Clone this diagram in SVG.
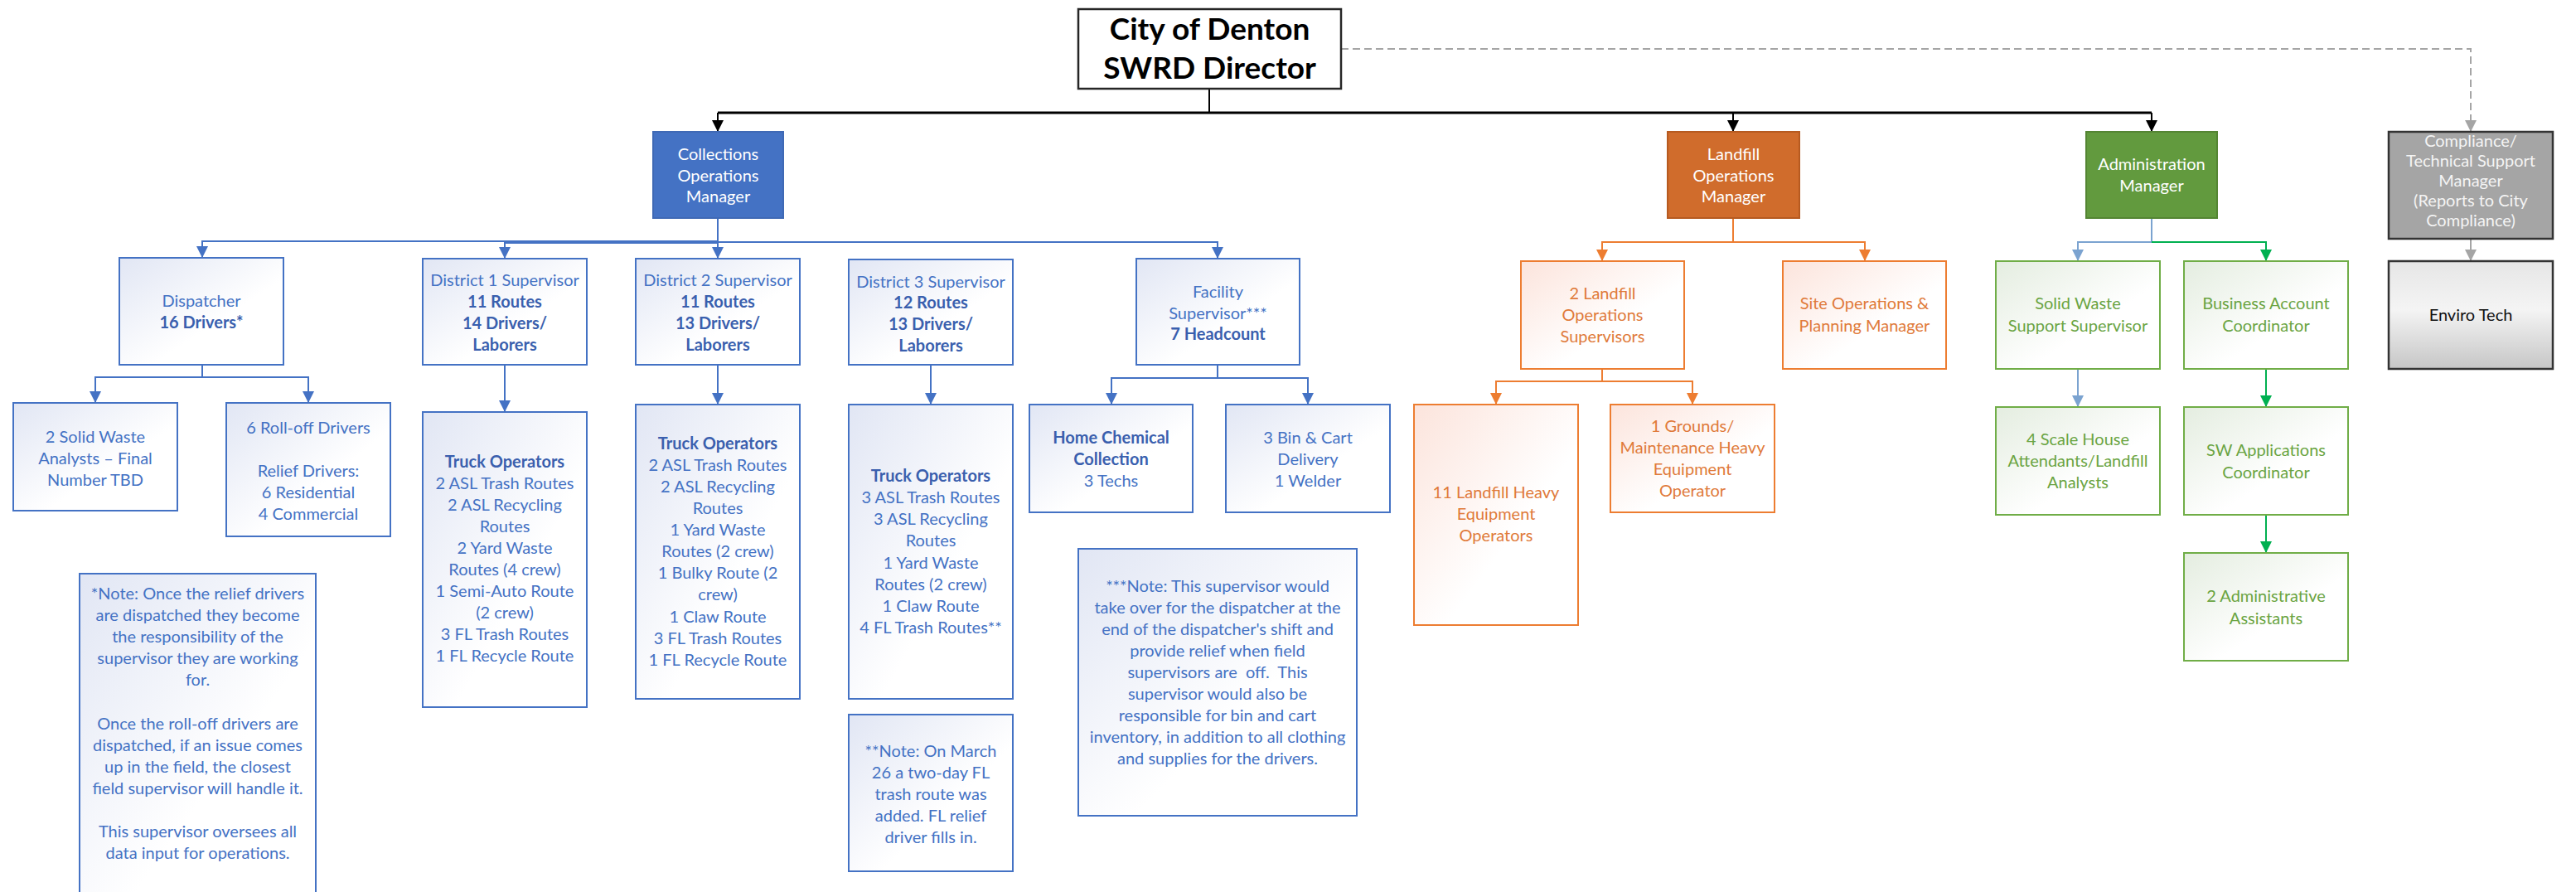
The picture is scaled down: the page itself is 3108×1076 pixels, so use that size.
<svg xmlns="http://www.w3.org/2000/svg" width="3108" height="1076" viewBox="0 0 3108 1076">
<defs>
<linearGradient id="gb" x1="0" y1="0" x2="1" y2="1"><stop offset="0" stop-color="#E1E6F4"/><stop offset="0.6" stop-color="#FFFFFF"/></linearGradient>
<linearGradient id="go" x1="0" y1="0" x2="1" y2="1"><stop offset="0" stop-color="#FCE4DC"/><stop offset="0.6" stop-color="#FFFFFF"/></linearGradient>
<linearGradient id="gg" x1="0" y1="0" x2="1" y2="1"><stop offset="0" stop-color="#E4EDE0"/><stop offset="0.6" stop-color="#FFFFFF"/></linearGradient>
<linearGradient id="gk" x1="0" y1="0" x2="0" y2="1"><stop offset="0" stop-color="#E6E6E6"/><stop offset="0.45" stop-color="#F4F4F4"/><stop offset="1" stop-color="#C6C6C6"/></linearGradient>
<marker id="ak" markerUnits="userSpaceOnUse" markerWidth="14" markerHeight="14" refX="14" refY="7" orient="auto"><path d="M0,0 L14,7 L0,14 z" fill="#000"/></marker>
<marker id="ab" markerUnits="userSpaceOnUse" markerWidth="14" markerHeight="14" refX="14" refY="7" orient="auto"><path d="M0,0 L14,7 L0,14 z" fill="#4472C4"/></marker>
<marker id="ao" markerUnits="userSpaceOnUse" markerWidth="14" markerHeight="14" refX="14" refY="7" orient="auto"><path d="M0,0 L14,7 L0,14 z" fill="#ED7D31"/></marker>
<marker id="al" markerUnits="userSpaceOnUse" markerWidth="14" markerHeight="14" refX="14" refY="7" orient="auto"><path d="M0,0 L14,7 L0,14 z" fill="#7BA3D0"/></marker>
<marker id="ag" markerUnits="userSpaceOnUse" markerWidth="14" markerHeight="14" refX="14" refY="7" orient="auto"><path d="M0,0 L14,7 L0,14 z" fill="#00B050"/></marker>
<marker id="ay" markerUnits="userSpaceOnUse" markerWidth="14" markerHeight="14" refX="14" refY="7" orient="auto"><path d="M0,0 L14,7 L0,14 z" fill="#A5A5A5"/></marker>
</defs>
<style>
text{font-family:Lato,"Liberation Sans",sans-serif;font-size:20px;text-anchor:middle}
.b{fill:url(#gb);stroke:#4472C4;stroke-width:2}
.o{fill:url(#go);stroke:#ED7D31;stroke-width:2}
.g{fill:url(#gg);stroke:#70AD47;stroke-width:2}
.tb{fill:#4472C4}
.to{fill:#E07A3A}
.tg{fill:#6AA442}
.tw{fill:#FFFFFF}
.bd{font-weight:bold}
.tbb{fill:#3A5FAE;font-weight:bold}
.c{fill:none;stroke-width:2}
.ck{stroke:#000;marker-end:url(#ak)}
.cb{stroke:#4472C4;marker-end:url(#ab)}
.co{stroke:#ED7D31;marker-end:url(#ao)}
.cl{stroke:#7BA3D0;marker-end:url(#al)}
.cg{stroke:#00B050;marker-end:url(#ag)}
.cy{stroke:#A5A5A5;marker-end:url(#ay)}
</style>
<rect width="3108" height="1076" fill="#FFFFFF"/>
<g id="connectors">
<path class="c" d="M1459,107 V136" stroke="#000" stroke-width="2.5"/>
<path d="M866,136 H2596" fill="none" stroke="#000" stroke-width="3"/>
<path class="c ck" d="M866,136 V159"/>
<path class="c ck" d="M2091,136 V159"/>
<path class="c ck" d="M2596,136 V159"/>
<path class="c cy" d="M1618,59 H2981 V159" stroke-dasharray="9,5"/>
<path class="c cy" d="M2981,288 V315"/>
<path class="c cb" d="M866,263 V291 H244 V311"/>
<path class="c cb" d="M866,263 V293 H609 V312"/>
<path class="c cb" d="M866,263 V312"/>
<path class="c cb" d="M866,263 V292 H1469 V312"/>
<path class="c cb" d="M244,440 V455 H115 V486"/>
<path class="c cb" d="M244,440 V455 H372 V486"/>
<path class="c cb" d="M609,440 V497"/>
<path class="c cb" d="M866,440 V488"/>
<path class="c cb" d="M1123,440 V488"/>
<path class="c cb" d="M1469,440 V456 H1341 V488"/>
<path class="c cb" d="M1469,440 V456 H1578 V488"/>
<path class="c co" d="M2091,263 V292 H1933 V315"/>
<path class="c co" d="M2091,263 V292 H2250 V315"/>
<path class="c co" d="M1933,445 V460 H1805 V488"/>
<path class="c co" d="M1933,445 V460 H2042 V488"/>
<path class="c cl" d="M2596,263 V292 H2507 V315"/>
<path class="c cg" d="M2596,292 H2734 V315"/>
<path class="c cl" d="M2507,445 V491"/>
<path class="c cg" d="M2734,445 V491"/>
<path class="c cg" d="M2734,621 V667"/>
</g>
<g id="director">
<rect x="1301" y="11" width="317" height="96" fill="#FFFFFF" stroke="#262626" stroke-width="2.5"/>
<text x="1459.5" y="48" style="font-size:37px;font-weight:bold" fill="#000">City of Denton</text>
<text x="1459.5" y="95" style="font-size:37px;font-weight:bold" fill="#000">SWRD Director</text>
</g>
<g id="collections-manager">
<rect x="788" y="159" width="157" height="104" fill="#4472C4" stroke="#3F69B5" stroke-width="2"/>
<text class="tw"><tspan x="866.5" y="193">Collections</tspan><tspan x="866.5" y="218.5">Operations</tspan><tspan x="866.5" y="244">Manager</tspan></text>
</g>
<g id="landfill-manager">
<rect x="2012" y="159" width="159" height="104" fill="#D06C2C" stroke="#B65A20" stroke-width="2"/>
<text class="tw"><tspan x="2091.5" y="193">Landfill</tspan><tspan x="2091.5" y="218.5">Operations</tspan><tspan x="2091.5" y="244">Manager</tspan></text>
</g>
<g id="admin-manager">
<rect x="2517" y="159" width="158" height="104" fill="#629A3E" stroke="#548533" stroke-width="2"/>
<text class="tw"><tspan x="2596" y="205">Administration</tspan><tspan x="2596" y="231">Manager</tspan></text>
</g>
<g id="compliance-manager">
<rect x="2882" y="159" width="198" height="129" fill="#A5A5A5" stroke="#333333" stroke-width="2.5"/>
<text fill="#F4F4F4"><tspan x="2981" y="177">Compliance/</tspan><tspan x="2981" y="201">Technical Support</tspan><tspan x="2981" y="225">Manager</tspan><tspan x="2981" y="249">(Reports to City</tspan><tspan x="2981" y="273">Compliance)</tspan></text>
</g>
<g id="enviro-tech">
<rect x="2882" y="315" width="198" height="130" fill="url(#gk)" stroke="#333333" stroke-width="2.5"/>
<text x="2981" y="387" fill="#111">Enviro Tech</text>
</g>
<g id="dispatcher">
<rect class="b" x="144" y="311" width="198" height="129"/>
<text class="tb"><tspan x="243" y="370">Dispatcher</tspan><tspan x="243" y="396" class="tbb">16 Drivers*</tspan></text>
</g>
<g id="district1">
<rect class="b" x="510" y="312" width="198" height="128"/>
<text class="tb"><tspan x="609" y="345">District 1 Supervisor</tspan><tspan x="609" y="371" class="tbb">11 Routes</tspan><tspan x="609" y="397" class="tbb">14 Drivers/</tspan><tspan x="609" y="423" class="tbb">Laborers</tspan></text>
</g>
<g id="district2">
<rect class="b" x="767" y="312" width="198" height="128"/>
<text class="tb"><tspan x="866" y="345">District 2 Supervisor</tspan><tspan x="866" y="371" class="tbb">11 Routes</tspan><tspan x="866" y="397" class="tbb">13 Drivers/</tspan><tspan x="866" y="423" class="tbb">Laborers</tspan></text>
</g>
<g id="district3">
<rect class="b" x="1024" y="313" width="198" height="127"/>
<text class="tb"><tspan x="1123" y="347">District 3 Supervisor</tspan><tspan x="1123" y="372" class="tbb">12 Routes</tspan><tspan x="1123" y="398" class="tbb">13 Drivers/</tspan><tspan x="1123" y="424" class="tbb">Laborers</tspan></text>
</g>
<g id="facility">
<rect class="b" x="1371" y="312" width="197" height="128"/>
<text class="tb"><tspan x="1469.5" y="359">Facility</tspan><tspan x="1469.5" y="385">Supervisor***</tspan><tspan x="1469.5" y="410" class="tbb">7 Headcount</tspan></text>
</g>
<g id="analysts">
<rect class="b" x="16" y="486" width="198" height="130"/>
<text class="tb"><tspan x="115" y="534">2 Solid Waste</tspan><tspan x="115" y="560">Analysts – Final</tspan><tspan x="115" y="586">Number TBD</tspan></text>
</g>
<g id="rolloff">
<rect class="b" x="273" y="486" width="198" height="161"/>
<text class="tb"><tspan x="372" y="523">6 Roll-off Drivers</tspan><tspan x="372" y="575">Relief Drivers:</tspan><tspan x="372" y="601">6 Residential</tspan><tspan x="372" y="627">4 Commercial</tspan></text>
</g>
<g id="note1">
<rect class="b" x="96" y="692" width="285" height="400"/>
<text class="tb"><tspan x="238.5" y="723">*Note: Once the relief drivers</tspan><tspan x="238.5" y="749">are dispatched they become</tspan><tspan x="238.5" y="775">the responsibility of the</tspan><tspan x="238.5" y="801">supervisor they are working</tspan><tspan x="238.5" y="827">for.</tspan><tspan x="238.5" y="880">Once the roll-off drivers are</tspan><tspan x="238.5" y="906">dispatched, if an issue comes</tspan><tspan x="238.5" y="932">up in the field, the closest</tspan><tspan x="238.5" y="958">field supervisor will handle it.</tspan><tspan x="238.5" y="1010">This supervisor oversees all</tspan><tspan x="238.5" y="1036">data input for operations.</tspan></text>
</g>
<g id="d1-operators">
<rect class="b" x="510" y="497" width="198" height="356"/>
<text class="tb"><tspan x="609" y="564" class="tbb">Truck Operators</tspan><tspan x="609" y="590">2 ASL Trash Routes</tspan><tspan x="609" y="616">2 ASL Recycling</tspan><tspan x="609" y="642">Routes</tspan><tspan x="609" y="668">2 Yard Waste</tspan><tspan x="609" y="694">Routes (4 crew)</tspan><tspan x="609" y="720">1 Semi-Auto Route</tspan><tspan x="609" y="746">(2 crew)</tspan><tspan x="609" y="772">3 FL Trash Routes</tspan><tspan x="609" y="798">1 FL Recycle Route</tspan></text>
</g>
<g id="d2-operators">
<rect class="b" x="767" y="488" width="198" height="355"/>
<text class="tb"><tspan x="866" y="542" class="tbb">Truck Operators</tspan><tspan x="866" y="568">2 ASL Trash Routes</tspan><tspan x="866" y="594">2 ASL Recycling</tspan><tspan x="866" y="620">Routes</tspan><tspan x="866" y="646">1 Yard Waste</tspan><tspan x="866" y="672">Routes (2 crew)</tspan><tspan x="866" y="698">1 Bulky Route (2</tspan><tspan x="866" y="724">crew)</tspan><tspan x="866" y="751">1 Claw Route</tspan><tspan x="866" y="777">3 FL Trash Routes</tspan><tspan x="866" y="803">1 FL Recycle Route</tspan></text>
</g>
<g id="d3-operators">
<rect class="b" x="1024" y="488" width="198" height="355"/>
<text class="tb"><tspan x="1123" y="581" class="tbb">Truck Operators</tspan><tspan x="1123" y="607">3 ASL Trash Routes</tspan><tspan x="1123" y="633">3 ASL Recycling</tspan><tspan x="1123" y="659">Routes</tspan><tspan x="1123" y="686">1 Yard Waste</tspan><tspan x="1123" y="712">Routes (2 crew)</tspan><tspan x="1123" y="738">1 Claw Route</tspan><tspan x="1123" y="764">4 FL Trash Routes**</tspan></text>
</g>
<g id="note2">
<rect class="b" x="1024" y="862" width="198" height="189"/>
<text class="tb"><tspan x="1123" y="913">**Note: On March</tspan><tspan x="1123" y="939">26 a two-day FL</tspan><tspan x="1123" y="965">trash route was</tspan><tspan x="1123" y="991">added. FL relief</tspan><tspan x="1123" y="1017">driver fills in.</tspan></text>
</g>
<g id="home-chemical">
<rect class="b" x="1242" y="488" width="197" height="130"/>
<text class="tb"><tspan x="1340.5" y="535" class="tbb">Home Chemical</tspan><tspan x="1340.5" y="561" class="tbb">Collection</tspan><tspan x="1340.5" y="587">3 Techs</tspan></text>
</g>
<g id="bin-cart">
<rect class="b" x="1479" y="488" width="198" height="130"/>
<text class="tb"><tspan x="1578" y="535">3 Bin &amp; Cart</tspan><tspan x="1578" y="561">Delivery</tspan><tspan x="1578" y="587">1 Welder</tspan></text>
</g>
<g id="note3">
<rect class="b" x="1301" y="662" width="336" height="322"/>
<text class="tb"><tspan x="1469" y="714">***Note: This supervisor would</tspan><tspan x="1469" y="740">take over for the dispatcher at the</tspan><tspan x="1469" y="766">end of the dispatcher's shift and</tspan><tspan x="1469" y="792">provide relief when field</tspan><tspan x="1469" y="818" xml:space="preserve">supervisors are  off.  This</tspan><tspan x="1469" y="844">supervisor would also be</tspan><tspan x="1469" y="870">responsible for bin and cart</tspan><tspan x="1469" y="896">inventory, in addition to all clothing</tspan><tspan x="1469" y="922">and supplies for the drivers.</tspan></text>
</g>
<g id="landfill-supervisors">
<rect class="o" x="1835" y="315" width="197" height="130"/>
<text class="to"><tspan x="1933.5" y="361">2 Landfill</tspan><tspan x="1933.5" y="387">Operations</tspan><tspan x="1933.5" y="413">Supervisors</tspan></text>
</g>
<g id="site-ops">
<rect class="o" x="2151" y="315" width="197" height="130"/>
<text class="to"><tspan x="2249.5" y="373">Site Operations &amp;</tspan><tspan x="2249.5" y="400">Planning Manager</tspan></text>
</g>
<g id="heavy-operators">
<rect class="o" x="1706" y="488" width="198" height="266"/>
<text class="to"><tspan x="1805" y="601">11 Landfill Heavy</tspan><tspan x="1805" y="627">Equipment</tspan><tspan x="1805" y="653">Operators</tspan></text>
</g>
<g id="grounds">
<rect class="o" x="1943" y="488" width="198" height="130"/>
<text class="to"><tspan x="2042" y="521">1 Grounds/</tspan><tspan x="2042" y="547">Maintenance Heavy</tspan><tspan x="2042" y="573">Equipment</tspan><tspan x="2042" y="599">Operator</tspan></text>
</g>
<g id="sw-support">
<rect class="g" x="2408" y="315" width="198" height="130"/>
<text class="tg"><tspan x="2507" y="373">Solid Waste</tspan><tspan x="2507" y="400">Support Supervisor</tspan></text>
</g>
<g id="business-account">
<rect class="g" x="2635" y="315" width="198" height="130"/>
<text class="tg"><tspan x="2734" y="373">Business Account</tspan><tspan x="2734" y="400">Coordinator</tspan></text>
</g>
<g id="scale-house">
<rect class="g" x="2408" y="491" width="198" height="130"/>
<text class="tg"><tspan x="2507" y="537">4 Scale House</tspan><tspan x="2507" y="563">Attendants/Landfill</tspan><tspan x="2507" y="589">Analysts</tspan></text>
</g>
<g id="sw-applications">
<rect class="g" x="2635" y="491" width="198" height="130"/>
<text class="tg"><tspan x="2734" y="550">SW Applications</tspan><tspan x="2734" y="577">Coordinator</tspan></text>
</g>
<g id="admin-assistants">
<rect class="g" x="2635" y="667" width="198" height="130"/>
<text class="tg"><tspan x="2734" y="726">2 Administrative</tspan><tspan x="2734" y="753">Assistants</tspan></text>
</g>
</svg>
